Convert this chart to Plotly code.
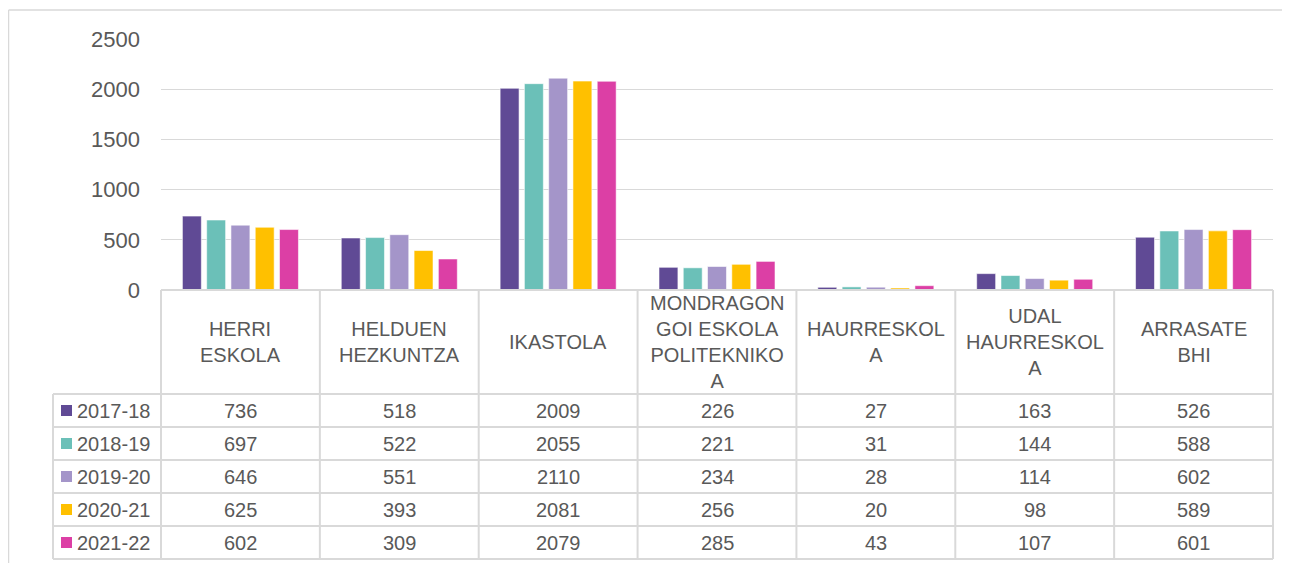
import plotly.graph_objects as go

categories = ["HERRI ESKOLA", "HELDUEN HEZKUNTZA", "IKASTOLA",
              "MONDRAGON GOI ESKOLA POLITEKNIKOA", "HAURRESKOLA",
              "UDAL HAURRESKOLA", "ARRASATE BHI"]
header_labels = ["HERRI<br>ESKOLA", "HELDUEN<br>HEZKUNTZA", "IKASTOLA",
                 "MONDRAGON<br>GOI ESKOLA<br>POLITEKNIKO<br>A", "HAURRESKOL<br>A",
                 "UDAL<br>HAURRESKOL<br>A", "ARRASATE<br>BHI"]
series_names = ["2017-18", "2018-19", "2019-20", "2020-21", "2021-22"]
v2017_18 = [736, 518, 2009, 226, 27, 163, 526]
v2018_19 = [697, 522, 2055, 221, 31, 144, 588]
v2019_20 = [646, 551, 2110, 234, 28, 114, 602]
v2020_21 = [625, 393, 2081, 256, 20, 98, 589]
v2021_22 = [602, 309, 2079, 285, 43, 107, 601]
series_values = [v2017_18, v2018_19, v2019_20, v2020_21, v2021_22]
colors = ["#604A95", "#6BC0B8", "#A495C9", "#FFC000", "#DC3FA5"]
y_ticks = [0, 500, 1000, 1500, 2000, 2500]

OFF = 8                      # browser body margin
W, H = 1290 - OFF, 563 - OFF
ML, MR = 161 - OFF, 17
PW = W - ML - MR
ncat = len(categories)
TXT = "#595959"
GRID = "#D9D9D9"
FONT = "Liberation Sans, Arial, sans-serif"


def py(px):
    # screen pixel y -> paper y
    return 1 - (px - OFF) / H


def pxx(px):
    # screen pixel x -> paper x
    return (px - OFF - ML) / PW


def col_edge(i):
    return i / ncat


fig = go.Figure()
for name, vals, c in zip(series_names, series_values, colors):
    fig.add_trace(go.Bar(x=categories, y=vals, name=name, marker_color=c,
                         marker_line=dict(width=0.8, color="rgba(255,255,255,0.7)")))

shapes = []
# outer chart border
shapes.append(dict(type="line", xref="paper", yref="paper", x0=pxx(8.6), x1=pxx(1300),
                   y0=py(10), y1=py(10), line=dict(color=GRID, width=1.3)))
shapes.append(dict(type="line", xref="paper", yref="paper", x0=pxx(8.6), x1=pxx(8.6),
                   y0=py(10), y1=0, line=dict(color=GRID, width=1.3)))

row_lines = [394, 427, 460, 493, 526, 559]
header_top, header_bot = 290, 394
legend_left = 53
lw = 2
shapes.append(dict(type="line", xref="paper", yref="paper", x0=0, x1=1,
                   y0=py(header_top), y1=py(header_top), line=dict(color=GRID, width=lw)))
for r in row_lines:
    shapes.append(dict(type="line", xref="paper", yref="paper", x0=pxx(legend_left), x1=1,
                       y0=py(r), y1=py(r), line=dict(color=GRID, width=lw)))
shapes.append(dict(type="line", xref="paper", yref="paper", x0=pxx(legend_left), x1=pxx(legend_left),
                   y0=py(header_bot), y1=py(row_lines[-1]), line=dict(color=GRID, width=lw)))
for i in range(ncat + 1):
    shapes.append(dict(type="line", xref="paper", yref="paper", x0=col_edge(i), x1=col_edge(i),
                       y0=py(header_top), y1=py(row_lines[-1]), line=dict(color=GRID, width=lw)))

annotations = []
for i, lab in enumerate(header_labels):
    annotations.append(dict(x=i, xref="x", y=py((header_top + header_bot) / 2), yref="paper",
                            text=lab, showarrow=False, xanchor="center", yanchor="middle",
                            font=dict(family=FONT, size=20, color=TXT)))

for k, (name, vals, c) in enumerate(zip(series_names, series_values, colors)):
    yc = (row_lines[k] + row_lines[k + 1]) / 2
    shapes.append(dict(type="rect", xref="paper", yref="paper", x0=pxx(61), x1=pxx(72),
                       y0=py(yc - 5.5), y1=py(yc + 5.5), fillcolor=c, line=dict(width=0)))
    annotations.append(dict(x=pxx(75), xref="paper", y=py(yc), yref="paper", text=name,
                            showarrow=False, xanchor="left", yanchor="middle",
                            font=dict(family=FONT, size=20, color=TXT)))
    for i, v in enumerate(vals):
        annotations.append(dict(x=i, xref="x", y=py(yc), yref="paper", text=str(v),
                                showarrow=False, xanchor="center", yanchor="middle",
                                font=dict(family=FONT, size=20, color=TXT)))

fig.update_layout(
    template="none",
    width=W, height=H,
    margin=dict(l=ML, r=MR, t=0, b=0, autoexpand=False),
    paper_bgcolor="white", plot_bgcolor="white",
    barmode="group", bargap=0.236, bargroupgap=0.22,
    showlegend=False,
    font=dict(family=FONT, color=TXT),
    shapes=shapes, annotations=annotations,
    xaxis=dict(showticklabels=False, showgrid=False, zeroline=False, showline=False,
               range=[-0.5, ncat - 0.5], ticks="", automargin=False),
    yaxis=dict(domain=[py(290), py(39)], range=[0, 2500], tickvals=y_ticks,
               showgrid=True, gridcolor=GRID, gridwidth=1.3, zeroline=True,
               zerolinecolor=GRID, zerolinewidth=1.3, showline=False, ticks="",
               automargin=False,
               ticklabelstandoff=20, tickfont=dict(family=FONT, size=22, color=TXT)),
)

fig.write_html("out.html")
